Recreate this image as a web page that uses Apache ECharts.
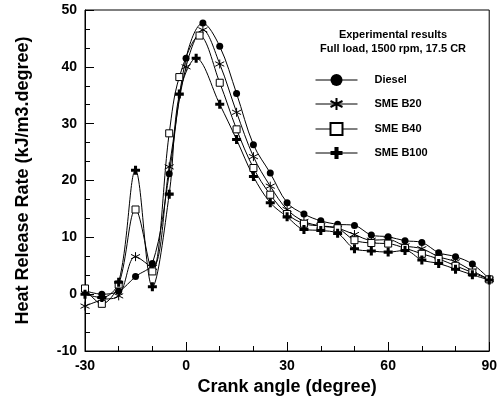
<!DOCTYPE html>
<html>
<head>
<meta charset="utf-8">
<script src="https://cdn.jsdelivr.net/npm/echarts@6/dist/echarts.min.js"></script>
<style>
  html, body { margin: 0; padding: 0; background: #fff; }
  #chart { width: 500px; height: 403px; }
</style>
</head>
<body>
<div id="chart"></div>
<script>
// crank angles (degree)
var angles = [-30, -25, -20, -15, -10, -5, 0, 5, 10, 15, 20, 25, 30, 35, 40, 45, 50, 55, 60, 65, 70, 75, 80, 85, 90];
var anglesB40 = [-30, -25, -20, -15, -10, -5, -2, 4, 10, 15, 20, 25, 30, 35, 40, 45, 50, 55, 60, 65, 70, 75, 80, 85, 90];
var anglesB100 = [-30, -25, -20, -15, -10, -5, -2, 3, 10, 15, 20, 25, 30, 35, 40, 45, 50, 55, 60, 65, 70, 75, 80, 85, 90];

// heat release rate (kJ/m3.degree)
var diesel = [0.6, 0, 0.5, 3.1, 5.4, 21.2, 41.5, 47.7, 43.6, 35.3, 26.3, 21.3, 16.1, 14.1, 12.9, 12.3, 12.1, 10.4, 10.1, 9.4, 9.1, 7.3, 6.6, 5.3, 2.7];
var smeB20 = [-2.1, -1.0, -0.3, 6.6, 4.7, 22.4, 40.0, 46.5, 40.5, 32.0, 24.2, 19.0, 14.9, 12.8, 12.0, 11.6, 10.5, 9.5, 9.6, 8.5, 8.0, 6.6, 5.7, 4.1, 2.6];
var smeB40 = [1.0, -1.7, 1.7, 14.9, 4.0, 28.3, 38.2, 45.5, 37.2, 29.0, 22.2, 17.5, 14.1, 12.4, 12.0, 11.6, 9.5, 9.0, 8.9, 8.1, 7.1, 6.2, 5.0, 3.8, 2.6];
var smeB100 = [0, -0.6, 2.1, 21.8, 1.3, 17.6, 35.2, 41.5, 33.4, 27.2, 20.7, 16.1, 13.6, 11.4, 11.2, 10.7, 8.0, 7.6, 7.4, 7.7, 6.0, 5.4, 4.4, 3.4, 2.5];

var seriesNames = ['Diesel', 'SME B20', 'SME B40', 'SME B100'];

var FONT = 'Liberation Sans, Arial, sans-serif';
var starPath = 'path://M5,0 L5,10 M0.7,2.5 L9.3,7.5 M0.7,7.5 L9.3,2.5';
var plusPath = 'path://M3.3,0 H6.7 V3.3 H10 V6.7 H6.7 V10 H3.3 V6.7 H0 V3.3 H3.3 Z';

function pairs(xs, ys) {
  return xs.map(function (x, i) { return [x, ys[i]]; });
}

function makeSeries(name, data, symbol, size, itemStyle) {
  return {
    name: name,
    type: 'line',
    data: data,
    smooth: 0.35,
    symbol: symbol,
    symbolSize: size,
    showAllSymbol: true,
    lineStyle: { color: '#000', width: 1 },
    itemStyle: itemStyle,
    emphasis: { disabled: true }
  };
}

var chart = echarts.init(document.getElementById('chart'));

chart.setOption({
  animation: false,
  backgroundColor: '#fff',
  grid: {
    left: 85, right: 7, top: 10, bottom: 52,
    show: true, borderColor: '#000', borderWidth: 1
  },
  graphic: [{
    type: 'text',
    x: 393, y: 28,
    style: {
      text: 'Experimental results\nFull load, 1500 rpm, 17.5 CR',
      font: 'bold 11px ' + FONT,
      fill: '#000',
      align: 'center',
      lineHeight: 14
    }
  }],
  legend: {
    data: seriesNames,
    orient: 'vertical',
    left: 310, top: 69,
    itemWidth: 42, itemHeight: 15, itemGap: 11,
    lineStyle: { width: 1, color: '#000' },
    textStyle: { fontFamily: FONT, fontWeight: 'bold', fontSize: 11, color: '#000', padding: [0, 0, 0, 12] }
  },
  xAxis: {
    type: 'value',
    min: -30, max: 90, interval: 30,
    name: 'Crank angle (degree)',
    nameLocation: 'middle', nameGap: 27,
    nameTextStyle: { fontFamily: FONT, fontWeight: 'bold', fontSize: 18, color: '#000' },
    axisLine: { onZero: false, lineStyle: { color: '#000', width: 1 } },
    axisTick: { inside: true, length: 9, lineStyle: { color: '#000' } },
    minorTick: { show: true, splitNumber: 3, length: 5, lineStyle: { color: '#000' } },
    axisLabel: { fontFamily: FONT, fontWeight: 'bold', fontSize: 14, color: '#000', margin: 8 },
    splitLine: { show: false }
  },
  yAxis: {
    type: 'value',
    min: -10, max: 50, interval: 10,
    name: 'Heat Release Rate (kJ/m3.degree)',
    nameLocation: 'middle', nameGap: 53,
    nameTextStyle: { fontFamily: FONT, fontWeight: 'bold', fontSize: 18, color: '#000' },
    axisLine: { onZero: false, lineStyle: { color: '#000', width: 1 } },
    axisTick: { inside: true, length: 9, lineStyle: { color: '#000' } },
    minorTick: { show: true, splitNumber: 3, length: 5, lineStyle: { color: '#000' } },
    axisLabel: { fontFamily: FONT, fontWeight: 'bold', fontSize: 14, color: '#000', margin: 8 },
    splitLine: { show: false }
  },
  series: [
    makeSeries(seriesNames[0], pairs(angles, diesel), 'circle', 7, { color: '#000' }),
    makeSeries(seriesNames[1], pairs(angles, smeB20), starPath, 9, { color: '#000', borderColor: '#000', borderWidth: 1 }),
    makeSeries(seriesNames[2], pairs(anglesB40, smeB40), 'rect', 7, { color: '#fff', borderColor: '#000', borderWidth: 1 }),
    makeSeries(seriesNames[3], pairs(anglesB100, smeB100), plusPath, 9, { color: '#000' })
  ]
});
</script>
</body>
</html>
